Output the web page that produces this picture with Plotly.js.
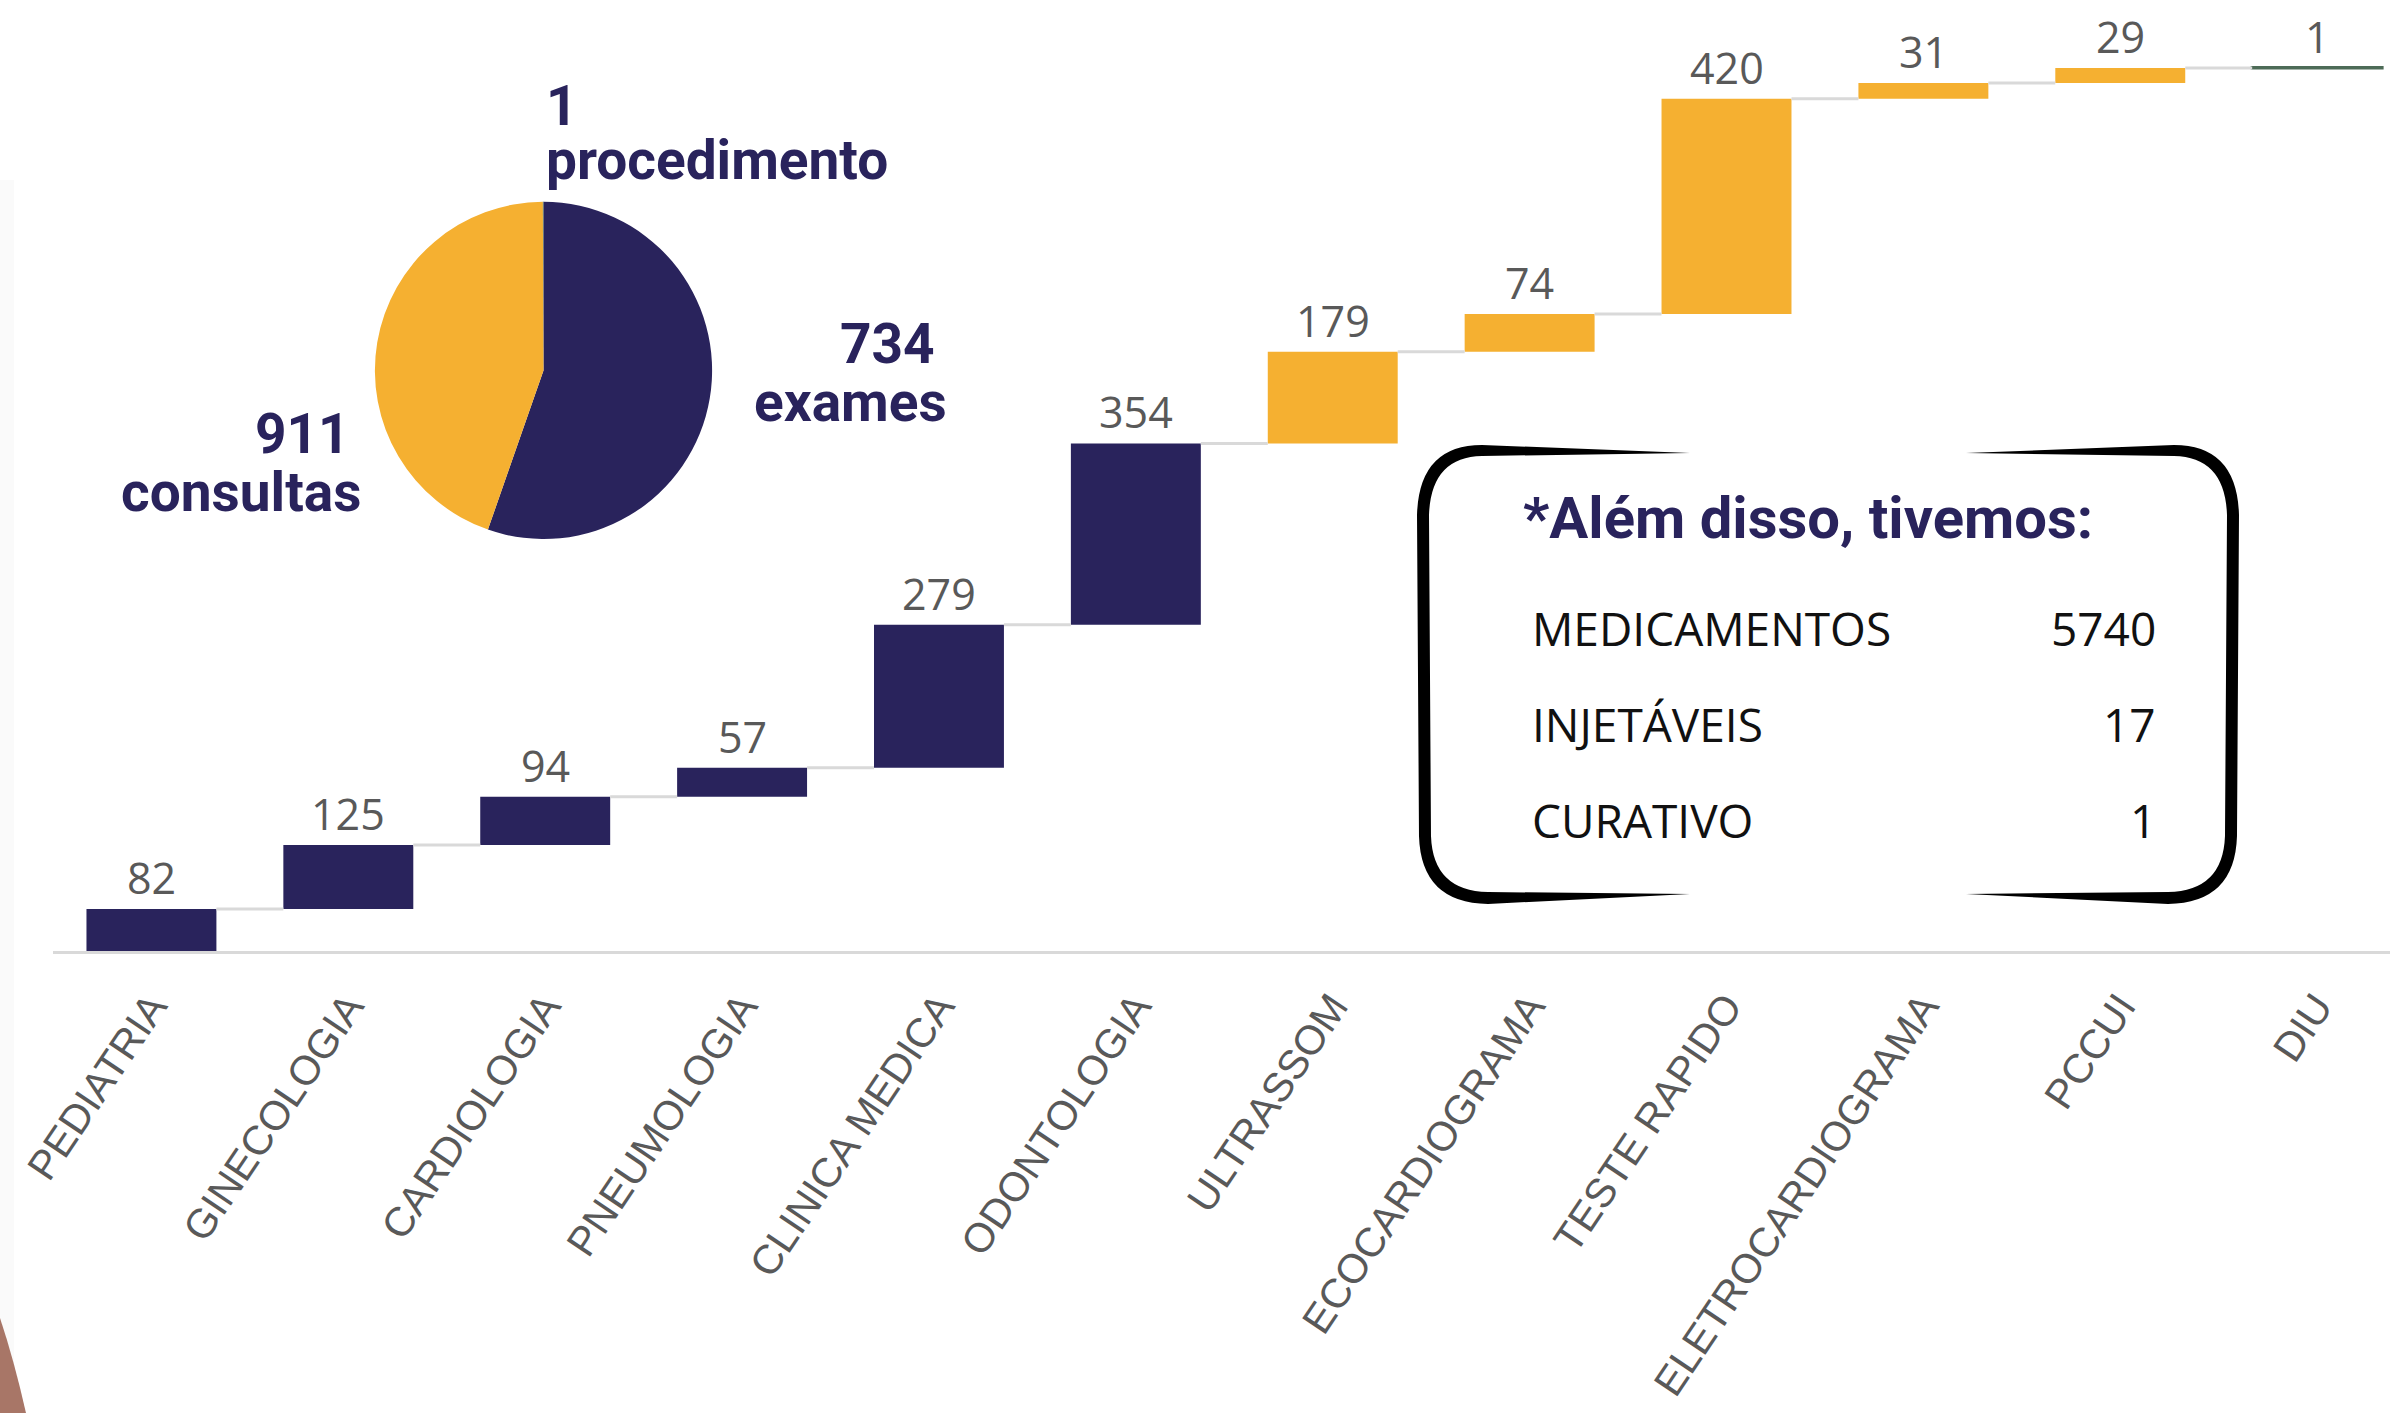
<!DOCTYPE html>
<html>
<head>
<meta charset="utf-8">
<script src="https://cdn.plot.ly/plotly-3.0.1.min.js"></script>
<style>
  html, body { margin: 0; padding: 0; background: #ffffff; }
  #chart { width: 2390px; height: 1413px; }
</style>
</head>
<body>
<div id="chart"></div>
<script>
// Data
var categories = ['PEDIATRIA', 'GINECOLOGIA', 'CARDIOLOGIA', 'PNEUMOLOGIA', 'CLINICA MEDICA', 'ODONTOLOGIA',
  'ULTRASSOM', 'ECOCARDIOGRAMA', 'TESTE RAPIDO', 'ELETROCARDIOGRAMA', 'PCCUI', 'DIU'];
var values = [82, 125, 94, 57, 279, 354, 179, 74, 420, 31, 29, 1];
var groups = ['consulta', 'consulta', 'consulta', 'consulta', 'consulta', 'consulta',
  'exame', 'exame', 'exame', 'exame', 'exame', 'procedimento'];

var pieLabels = ['consultas', 'exames', 'procedimento'];
var pieValues = [911, 734, 1];

var extraItems = ['MEDICAMENTOS', 'INJETÁVEIS', 'CURATIVO'];
var extraValues = [5740, 17, 1];

var NAVY = '#29235c';
var ORANGE = '#f5b031';
var GREEN = '#4d6b57';
var GREY = '#595959';
var groupColor = {consulta: NAVY, exame: ORANGE, procedimento: GREEN};

var W = 2390, H = 1413;
// pixel -> paper helpers (margins are zero so paper == whole figure)
function px(x) { return x / W; }
function py(y) { return 1 - y / H; }

// waterfall: each bar starts where the previous one ended
var idx = categories.map(function (c, i) { return i; });
var bases = [];
var tops = [];
var run = 0;
values.forEach(function (v) { bases.push(run); run += v; tops.push(run); });
var colors = groups.map(function (g) { return groupColor[g]; });
var barW = 0.66;

var bars = {
  type: 'bar',
  x: idx,
  y: values,
  base: bases,
  width: barW,
  marker: {
    color: colors,
    line: {color: colors, width: values.map(function (v) { return v < 5 ? 3 : 0; })}
  },
  hoverinfo: 'skip',
  showlegend: false
};

// connector lines between consecutive bars
var cx = [], cy = [];
for (var i = 0; i < values.length - 1; i++) {
  cx.push(i + barW / 2, i + 1 - barW / 2, null);
  cy.push(tops[i], tops[i], null);
}
var connectors = {
  type: 'scatter', mode: 'lines',
  x: cx, y: cy,
  line: {color: '#d9d9d9', width: 3},
  hoverinfo: 'skip', showlegend: false
};

var pie = {
  type: 'pie',
  values: pieValues,
  labels: pieLabels,
  marker: {colors: [NAVY, ORANGE, GREEN], line: {width: 0}},
  sort: false,
  direction: 'clockwise',
  rotation: 0,
  textinfo: 'none',
  hoverinfo: 'skip',
  showlegend: false,
  domain: {x: [px(374.8), px(712.2)], y: [py(539), py(201.8)]}
};

var annotations = [];

// value labels above each bar
values.forEach(function (v, i) {
  annotations.push({
    xref: 'x', yref: 'y', x: i, y: tops[i],
    text: String(v), showarrow: false,
    yanchor: 'bottom', yshift: 0,
    font: {family: 'Open Sans, sans-serif', size: 43, color: GREY}
  });
});

// pie labels
var bold = {family: 'Roboto, sans-serif', size: 55, color: NAVY, weight: 700};
function note(text, x, y, anchor, font) {
  annotations.push({
    xref: 'paper', yref: 'paper', x: px(x), y: py(y),
    text: text, showarrow: false, xanchor: anchor, yanchor: 'middle', font: font
  });
}
note(String(pieValues[2]), 544, 106, 'left', bold);
note(pieLabels[2], 544, 160, 'left', bold);
note(String(pieValues[1]), 937, 344, 'right', bold);
note(pieLabels[1], 949, 402, 'right', bold);
note(String(pieValues[0]), 352, 434, 'right', bold);
note(pieLabels[0], 363, 492, 'right', bold);

// side box
note('*Além disso, tivemos:', 1521, 518, 'left', {family: 'Roboto, sans-serif', size: 58, color: NAVY, weight: 700});
var rowFont = {family: 'Open Sans, sans-serif', size: 46, color: '#111111'};
var rowY = [628, 724, 820];
extraItems.forEach(function (t, i) {
  note(t, 1530, rowY[i], 'left', rowFont);
  note(String(extraValues[i]), 2158, rowY[i], 'right', rowFont);
});

// brush-like bracket outline around the box (two filled paths, mirrored)
function pathFrom(cmds, mirror) {
  var s = '';
  cmds.forEach(function (c) {
    s += c[0];
    for (var k = 1; k < c.length; k += 2) {
      var x = mirror ? 2 * mirror - c[k] : c[k];
      s += ' ' + px(x).toFixed(5) + ',' + py(c[k + 1]).toFixed(5);
    }
    s += ' ';
  });
  return s + 'Z';
}
var bracket = [
  ['M', 1690, 453], ['L', 1482, 445], ['Q', 1419, 445, 1417, 515], ['L', 1419, 836],
  ['Q', 1421, 903, 1488, 904], ['L', 1690, 894], ['L', 1488, 892], ['Q', 1433, 891, 1431, 836],
  ['L', 1429, 515], ['Q', 1431, 457, 1482, 456]
];
var shapes = [
  {type: 'rect', xref: 'paper', yref: 'paper', x0: 0, x1: px(14), y0: 0, y1: py(180),
    fillcolor: '#fafafa', line: {width: 0}, layer: 'below'},
  {type: 'path', xref: 'paper', yref: 'paper', path: pathFrom(bracket, 0),
    fillcolor: '#000000', line: {width: 0}},
  {type: 'path', xref: 'paper', yref: 'paper', path: pathFrom(bracket, 1828),
    fillcolor: '#000000', line: {width: 0}},
  {type: 'path', xref: 'paper', yref: 'paper',
    path: pathFrom([['M', 0, 1318], ['Q', 14, 1360, 26, 1413], ['L', 0, 1413]], 0),
    fillcolor: '#a87667', line: {width: 0}}
];

var layout = {
  width: W, height: H,
  margin: {l: 0, r: 0, t: 0, b: 0},
  paper_bgcolor: '#ffffff',
  plot_bgcolor: 'rgba(0,0,0,0)',
  bargap: 0,
  xaxis: {
    domain: [px(53), 1],
    range: [-0.5, 11.37],
    tickvals: idx,
    ticktext: categories,
    tickangle: -56,
    tickfont: {family: 'Liberation Sans, Arial, sans-serif', size: 41, color: GREY},
    ticks: '',
    ticklabelstandoff: 12,
    showline: true, linecolor: '#d9d9d9', linewidth: 3,
    showgrid: false, zeroline: false, fixedrange: true
  },
  yaxis: {
    domain: [py(951), 1],
    range: [0, 1857],
    visible: false, showgrid: false, zeroline: false, fixedrange: true
  },
  annotations: annotations,
  shapes: shapes
};

Plotly.newPlot('chart', [connectors, bars, pie], layout, {displayModeBar: false, staticPlot: true});
</script>
</body>
</html>
